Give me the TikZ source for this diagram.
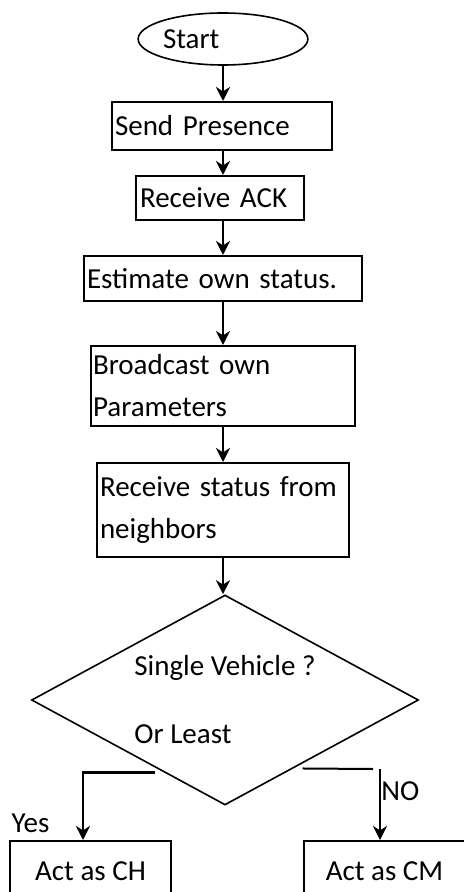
\documentclass[tikz,border=0pt]{standalone}
\usepackage{fontspec}
\setmainfont{Carlito}
\usetikzlibrary{shapes.geometric,arrows.meta,calc}
\begin{document}
\begin{tikzpicture}
			[
			x=0.5pt, y=-0.5pt, font=\fontsize{14.5}{21}\selectfont, >={Stealth[length=7pt,width=7pt,inset=2.2pt]},
			%Voreinstellung für Kästen und Pfeile
			box/.style={draw, rectangle, line width=1pt, align=left, inner ysep=0pt, inner xsep=1.5pt},
			arr/.style={->, line width=1.3pt}
			]
			%Raster im Hintergrund
			%\draw[step=50, gray, very thin] (0,0) grid (464,892);
			\useasboundingbox (0,0) rectangle (464,892);
			\clip (0,0) rectangle (464,892);
			
			%Ablauf
			\node[ellipse, draw, line width=0.8pt, minimum width=84pt, minimum height=26pt, text width=60pt, align=left, inner sep=0pt] (start) at (223,39) {Start};
			\node[box, minimum width=110pt, minimum height=24pt, text width=107pt] (send) at (222,126) {Send Presence};
			\node[box, minimum width=84pt, minimum height=22pt, text width=80pt, inner xsep=2pt] (ack) at (220,198) {Receive ACK};
			\node[box, minimum width=139pt, minimum height=22.5pt, text width=136pt] (est) at (223,278.5) {Estimate own status.};
			\node[box, minimum width=132pt, minimum height=40pt, text width=130pt, inner xsep=1pt] (bcast) at (223,386) {Broadcast own\\Parameters};
			\node[box, minimum width=126pt, minimum height=47pt, text width=123pt] (recv) at (223,510) {Receive status from\\neighbors};
			
			%Entscheidung
			\node[diamond, draw, line width=0.8pt, minimum width=193.5pt, minimum height=105pt, shape aspect=1.84, inner sep=0pt, align=left] (dec) at (225,700) {Single Vehicle ?\\[13pt]Or Least};
			\node[box, minimum width=80.5pt, minimum height=30pt, align=center] (ch) at (90.5,871) {Act as CH};
			\node[box, minimum width=80.5pt, minimum height=30pt, align=center] (cm) at (384.5,871) {Act as CM};
			\node (yes) at (30.5,823) {Yes};
			\node[anchor=west, inner sep=0pt] (no) at (381,791) {NO};
			
			%Pfeile
			\draw[arr] (start.south) -- (start.south |- send.north);
			\draw[arr] (send.south -| start.south) -- (ack.north -| start.south);
			\draw[arr] (ack.south -| start.south) -- (est.north);
			\draw[arr] (est) -- (bcast);
			\draw[arr] (bcast) -- (recv);
			\draw[arr] (recv.south) -- (recv.south |- dec.north);
			
			%Zweige
			\coordinate (noend) at (373,769);
			\coordinate (notop) at (380,769);
			\draw[arr] ($(dec.west)!0.64!(dec.south)+(0,5)$) -| ([xshift=-3.75pt]ch.north);
			\draw[line width=1pt] ($(dec.south)!0.40!(dec.east)+(0,5)$) -- (noend);
			\draw[arr] (notop) -- (notop |- cm.north);
		\end{tikzpicture}
\end{document}
